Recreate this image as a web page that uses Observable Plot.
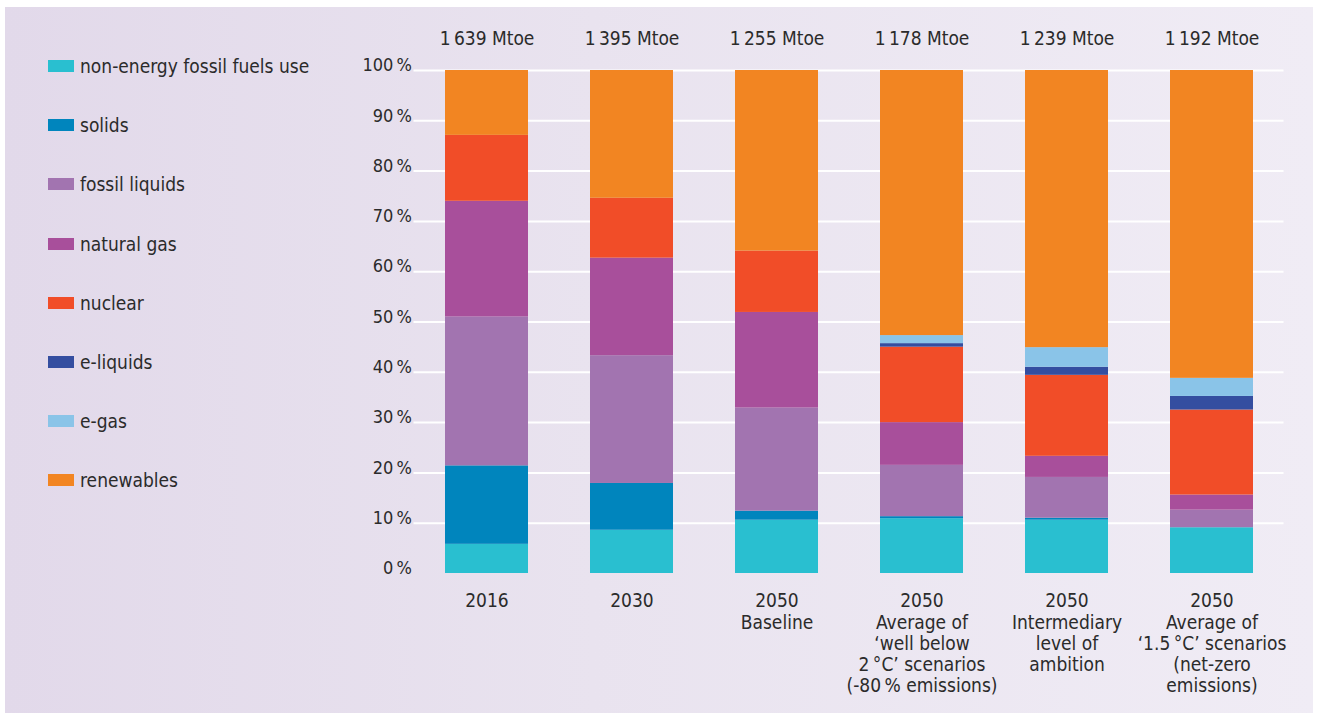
<!DOCTYPE html>
<html>
<head>
<meta charset="utf-8">
<script src="https://cdn.jsdelivr.net/npm/d3@7"></script>
<script src="https://cdn.jsdelivr.net/npm/@observablehq/plot@0.6"></script>
<style>
  html, body { margin: 0; padding: 0; background: #ffffff; }
  body { width: 1318px; height: 716px; overflow: hidden; font-family: "DejaVu Sans Condensed", "DejaVu Sans", sans-serif; }
  #panel {
    position: absolute; left: 5px; top: 7px; width: 1308px; height: 706px;
    background: linear-gradient(to right, #e2d9ea 0%, #e9e3ef 45%, #f0ecf5 100%);
  }
  #chart { position: absolute; left: 0; top: 0; }
  #legend { position: absolute; left: 43px; top: 0; }
  .item { position: absolute; left: 0; display: flex; align-items: center; white-space: nowrap;
          font-size: 19px; color: #2b2b2b; height: 24px; }
  .swatch { width: 26px; height: 12px; margin-right: 6px; box-sizing: border-box; }
</style>
</head>
<body>
<div id="panel">
  <div id="chart"></div>
  <div id="legend"></div>
</div>
<script>
// Scenario keys and their multi-line axis labels
const scenarios = ["2016", "2030", "2050 Baseline", "2050 WB2", "2050 Intermediary", "2050 1.5C"];
const scenarioLabels = [
  "2016",
  "2030",
  "2050\nBaseline",
  "2050\nAverage of\n\u2018well below\n2\u202f\u00b0C\u2019 scenarios\n(-80\u202f% emissions)",
  "2050\nIntermediary\nlevel of\nambition",
  "2050\nAverage of\n\u20181.5\u202f\u00b0C\u2019 scenarios\n(net-zero\nemissions)"
];

// Gross inland consumption totals (Mtoe)
const totalsMtoe = [1639, 1395, 1255, 1178, 1239, 1192];

// Energy sources, bottom to top, with their colours
const sources = ["non-energy fossil fuels use", "solids", "fossil liquids", "natural gas", "nuclear", "e-liquids", "e-gas", "renewables"];
const sourceColors = ["#29bfd0", "#0085bd", "#a274b0", "#a84f9b", "#f14d28", "#344ea0", "#8ac4e8", "#f28522"];

// Shares (%) of each source per scenario
const nonEnergy     = [5.8, 8.6, 10.6, 10.9, 10.6, 9.1];
const solids        = [15.6, 9.3, 1.8, 0.4, 0.4, 0.0];
const fossilLiquids = [29.6, 25.4, 20.5, 10.2, 8.1, 3.5];
const naturalGas    = [23.0, 19.4, 19.0, 8.5, 4.2, 3.0];
const nuclear       = [13.1, 11.9, 12.2, 15.0, 16.1, 16.9];
const eLiquids      = [0.0, 0.0, 0.0, 0.7, 1.6, 2.7];
const eGas          = [0.0, 0.0, 0.0, 1.6, 3.9, 3.6];
const renewables    = [12.9, 25.4, 35.9, 52.7, 55.1, 61.2];

const yTicks = [0, 10, 20, 30, 40, 50, 60, 70, 80, 90, 100];

const seriesValues = [nonEnergy, solids, fossilLiquids, naturalGas, nuclear, eLiquids, eGas, renewables];
const rows = [];
sources.forEach((source, s) => {
  scenarios.forEach((scenario, i) => {
    rows.push({scenario, source, share: seriesValues[s][i]});
  });
});

const labelOf = new Map(scenarios.map((k, i) => [k, scenarioLabels[i]]));
const totals = scenarios.map((k, i) => ({scenario: k, total: totalsMtoe[i]}));
const fmtTotal = d => d3.format(",")(d).replace(/,/g, "\u202f") + " Mtoe";

const font = "'DejaVu Sans Condensed', 'DejaVu Sans', sans-serif";

const chart = Plot.plot({
  width: 1308,
  height: 706,
  marginLeft: 408.5,
  marginRight: 29.5,
  marginTop: 63,
  marginBottom: 140,
  style: {background: "transparent", fontFamily: font, color: "#2b2b2b", overflow: "visible"},
  x: {domain: scenarios, paddingInner: 0.43, paddingOuter: 0.215, axis: null, label: null},
  y: {domain: [0, 100], axis: null, label: null},
  color: {domain: sources, range: sourceColors},
  marks: [
    Plot.ruleY(yTicks.filter(d => d > 0), {stroke: "#ffffff", strokeWidth: 2}),
    Plot.axisY({ticks: yTicks, tickSize: 0, tickPadding: 2, dy: -5, fontSize: 18,
                tickFormat: d => d + "\u202f%", label: null, fill: "#2b2b2b"}),
    Plot.barY(rows, {x: "scenario", y: "share", fill: "source", order: sources}),
    Plot.axisX({tickSize: 0, tickPadding: 19, fontSize: 19, lineHeight: 1.11,
                tickFormat: k => labelOf.get(k), label: null, fill: "#2b2b2b"}),
    Plot.text(totals, {x: "scenario", y: () => 100, dy: -32, text: d => fmtTotal(d.total),
                       fontSize: 19, fill: "#2b2b2b"})
  ]
});
document.getElementById("chart").appendChild(chart);

// Legend on the left
const legend = document.getElementById("legend");
sources.forEach((source, i) => {
  const item = document.createElement("div");
  item.className = "item";
  item.style.top = (59 + i * 59.2 - 12) + "px";
  const sw = document.createElement("span");
  sw.className = "swatch";
  sw.style.background = sourceColors[i];
  const label = document.createElement("span");
  label.textContent = source;
  item.appendChild(sw);
  item.appendChild(label);
  legend.appendChild(item);
});
</script>
</body>
</html>
